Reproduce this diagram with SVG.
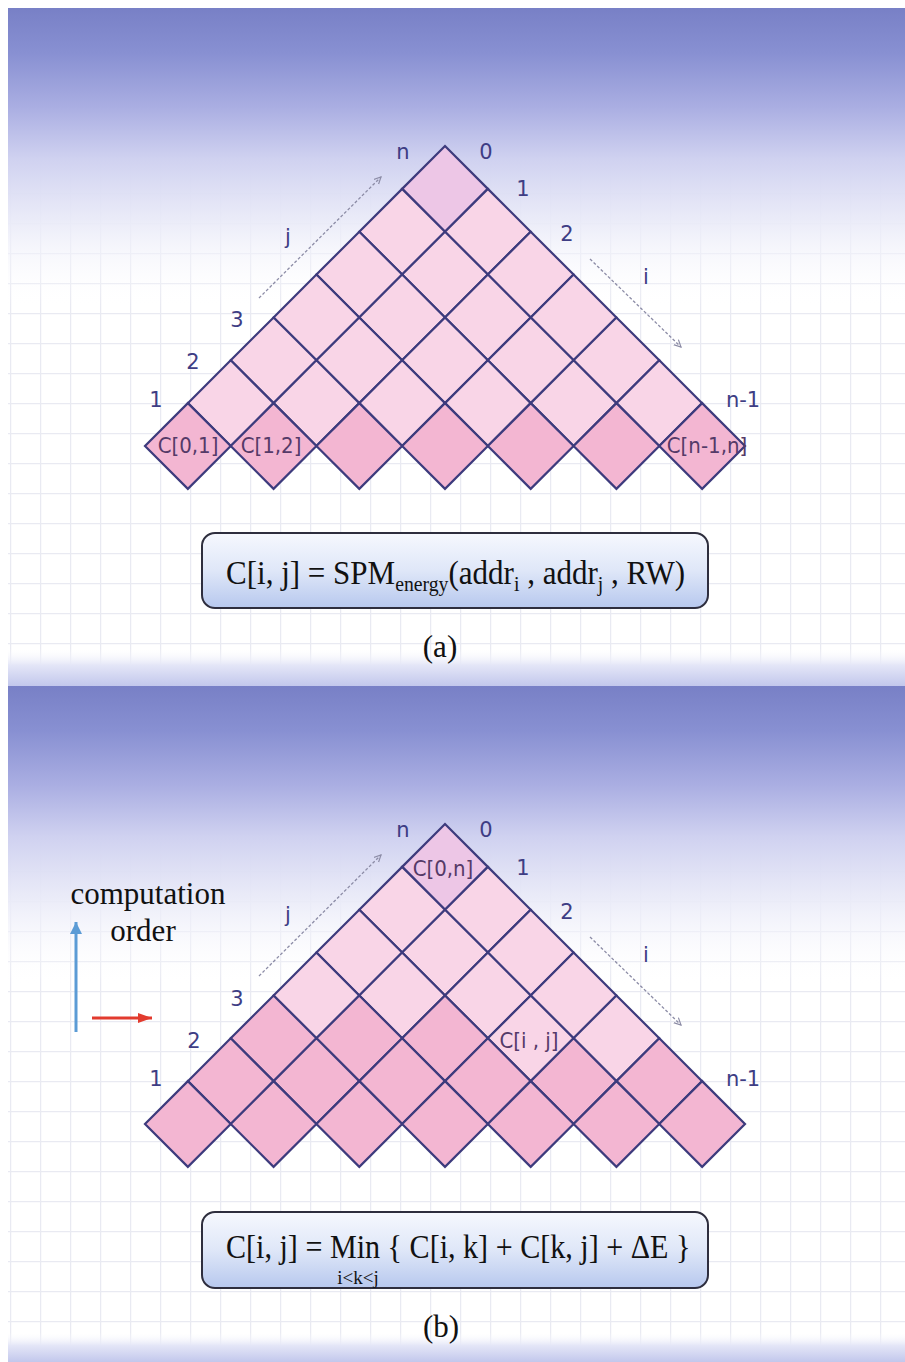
<svg xmlns="http://www.w3.org/2000/svg" xmlns:xlink="http://www.w3.org/1999/xlink" width="905" height="1362" viewBox="0 0 905 1362">
<style>
.lt{fill:#f9d5e7;stroke:#3d3b7d;stroke-width:2.2;stroke-linejoin:miter}
.dk{fill:#f3b6d2;stroke:#3d3b7d;stroke-width:2.2}
.top{fill:#edc6e6;stroke:#3d3b7d;stroke-width:2.2}
.lbl{font-family:"DejaVu Sans",Verdana,sans-serif;font-size:21px;fill:#3e3d84;text-anchor:middle}
.cell{font-family:"DejaVu Sans Condensed","DejaVu Sans",sans-serif;font-stretch:condensed;font-size:22px;fill:#553a68;text-anchor:middle}
.serif{font-family:"Liberation Serif","Times New Roman",serif;fill:#111}
.dot{fill:none;stroke:#8c8ca6;stroke-width:1.3;stroke-dasharray:3 2}
.box{fill:url(#boxg);stroke:#2e2e3e;stroke-width:2}
</style>
<defs>
<linearGradient id="topA" gradientUnits="userSpaceOnUse" x1="0" y1="8" x2="0" y2="308">
<stop offset="0" stop-color="#7880c6"/>
<stop offset="0.15" stop-color="#8890d2"/>
<stop offset="0.33" stop-color="#aaaee2"/>
<stop offset="0.5" stop-color="#cfd1f0"/>
<stop offset="0.72" stop-color="#eaebf8" stop-opacity="0.9"/>
<stop offset="1" stop-color="#ffffff" stop-opacity="0"/>
</linearGradient>
<linearGradient id="topB" gradientUnits="userSpaceOnUse" x1="0" y1="686" x2="0" y2="986">
<stop offset="0" stop-color="#7880c6"/>
<stop offset="0.15" stop-color="#8890d2"/>
<stop offset="0.33" stop-color="#aaaee2"/>
<stop offset="0.5" stop-color="#cfd1f0"/>
<stop offset="0.72" stop-color="#eaebf8" stop-opacity="0.9"/>
<stop offset="1" stop-color="#ffffff" stop-opacity="0"/>
</linearGradient>
<linearGradient id="band" x1="0" y1="0" x2="0" y2="1">
<stop offset="0" stop-color="#ffffff" stop-opacity="0"/>
<stop offset="0.45" stop-color="#e4e6f7"/>
<stop offset="1" stop-color="#c2c7ec"/>
</linearGradient>
<linearGradient id="boxg" x1="0" y1="0" x2="0" y2="1">
<stop offset="0" stop-color="#f6f8fe"/>
<stop offset="0.5" stop-color="#dfe7f8"/>
<stop offset="1" stop-color="#b7c8ee"/>
</linearGradient>
<pattern id="gridA" patternUnits="userSpaceOnUse" x="10" y="13" width="30" height="30">
<path d="M0,0.5H30M0.5,0V30" fill="none" stroke="#e9eaf2" stroke-width="1.5"/>
</pattern>
<pattern id="gridB" patternUnits="userSpaceOnUse" x="10" y="1" width="30" height="30">
<path d="M0,0.5H30M0.5,0V30" fill="none" stroke="#e9eaf2" stroke-width="1.5"/>
</pattern>
<path id="dia" d="M0,-42.857L42.857,0L0,42.857L-42.857,0Z"/>
<marker id="opn" markerUnits="userSpaceOnUse" markerWidth="10" markerHeight="10" refX="7" refY="4" orient="auto">
<path d="M0,0.5L7,4L0,7.5" fill="none" stroke="#8c8ca6" stroke-width="1.2"/>
</marker>
<marker id="blueH" markerUnits="userSpaceOnUse" markerWidth="14" markerHeight="14" refX="12" refY="6" orient="auto">
<path d="M0,0L12,6L0,12Z" fill="#5b9bd5"/>
</marker>
<marker id="redH" markerUnits="userSpaceOnUse" markerWidth="16" markerHeight="12" refX="14" refY="5" orient="auto">
<path d="M0,0L14,5L0,10Z" fill="#e23b2e"/>
</marker>
</defs>

<rect x="0" y="0" width="905" height="1362" fill="#ffffff"/>
<g id="bgA">
<rect x="8" y="8" width="897" height="678" fill="#ffffff"/>
<rect x="8" y="8" width="897" height="678" fill="url(#gridA)"/>
<rect x="8" y="8" width="897" height="300" fill="url(#topA)"/>
<rect x="8" y="648" width="897" height="38" fill="url(#band)"/>
</g>
<g id="bgB">
<rect x="8" y="686" width="897" height="676" fill="#ffffff"/>
<rect x="8" y="686" width="897" height="676" fill="url(#gridB)"/>
<rect x="8" y="686" width="897" height="300" fill="url(#topB)"/>
<rect x="8" y="1332" width="897" height="30" fill="url(#band)"/>
</g>

<g id="triangleA">
<use id="a00" xlink:href="#dia" x="445" y="188.86" class="top"/>
<use id="a10" xlink:href="#dia" x="402.14" y="231.71" class="lt"/>
<use id="a11" xlink:href="#dia" x="487.86" y="231.71" class="lt"/>
<use id="a20" xlink:href="#dia" x="359.29" y="274.57" class="lt"/>
<use id="a21" xlink:href="#dia" x="445" y="274.57" class="lt"/>
<use id="a22" xlink:href="#dia" x="530.71" y="274.57" class="lt"/>
<use id="a30" xlink:href="#dia" x="316.43" y="317.43" class="lt"/>
<use id="a31" xlink:href="#dia" x="402.14" y="317.43" class="lt"/>
<use id="a32" xlink:href="#dia" x="487.86" y="317.43" class="lt"/>
<use id="a33" xlink:href="#dia" x="573.57" y="317.43" class="lt"/>
<use id="a40" xlink:href="#dia" x="273.57" y="360.29" class="lt"/>
<use id="a41" xlink:href="#dia" x="359.29" y="360.29" class="lt"/>
<use id="a42" xlink:href="#dia" x="445" y="360.29" class="lt"/>
<use id="a43" xlink:href="#dia" x="530.71" y="360.29" class="lt"/>
<use id="a44" xlink:href="#dia" x="616.43" y="360.29" class="lt"/>
<use id="a50" xlink:href="#dia" x="230.71" y="403.14" class="lt"/>
<use id="a51" xlink:href="#dia" x="316.43" y="403.14" class="lt"/>
<use id="a52" xlink:href="#dia" x="402.14" y="403.14" class="lt"/>
<use id="a53" xlink:href="#dia" x="487.86" y="403.14" class="lt"/>
<use id="a54" xlink:href="#dia" x="573.57" y="403.14" class="lt"/>
<use id="a55" xlink:href="#dia" x="659.29" y="403.14" class="lt"/>
<use id="a60" xlink:href="#dia" x="187.86" y="446" class="dk"/>
<use id="a61" xlink:href="#dia" x="273.57" y="446" class="dk"/>
<use id="a62" xlink:href="#dia" x="359.29" y="446" class="dk"/>
<use id="a63" xlink:href="#dia" x="445" y="446" class="dk"/>
<use id="a64" xlink:href="#dia" x="530.71" y="446" class="dk"/>
<use id="a65" xlink:href="#dia" x="616.43" y="446" class="dk"/>
<use id="a66" xlink:href="#dia" x="702.14" y="446" class="dk"/>
</g>
<g id="cellLabelsA">
<text class="cell" x="188" y="453">C[0,1]</text>
<text class="cell" x="271" y="453">C[1,2]</text>
<text class="cell" x="707" y="453">C[n-1,n]</text>
</g>
<g id="axisLabelsA">
<text class="lbl" x="403" y="159">n</text>
<text class="lbl" x="486" y="159">0</text>
<text class="lbl" x="523" y="196">1</text>
<text class="lbl" x="567" y="241">2</text>
<text class="lbl" x="288" y="244">j</text>
<text class="lbl" x="646" y="284">i</text>
<text class="lbl" x="237" y="327">3</text>
<text class="lbl" x="193" y="369">2</text>
<text class="lbl" x="156" y="407">1</text>
<text class="lbl" x="743" y="407">n-1</text>
</g>
<g id="formulaA">
<rect class="box" x="202" y="533" width="506" height="75" rx="13"/>
<g transform="translate(226,0) scale(0.94,1)">
<text class="serif" x="0" y="584" font-size="33">C[i, j] = SPM<tspan font-size="21" dy="7">energy</tspan><tspan dy="-7">(addr</tspan><tspan font-size="21" dy="7">i</tspan><tspan dy="-7"> , addr</tspan><tspan font-size="21" dy="7">j</tspan><tspan dy="-7"> , RW)</tspan></text>
</g>
</g>
<text id="captionA" class="serif" x="440" y="657" font-size="31" text-anchor="middle">(a)</text>

<g id="triangleB">
<use id="b00" xlink:href="#dia" x="445" y="866.86" class="top"/>
<use id="b10" xlink:href="#dia" x="402.14" y="909.71" class="lt"/>
<use id="b11" xlink:href="#dia" x="487.86" y="909.71" class="lt"/>
<use id="b20" xlink:href="#dia" x="359.29" y="952.57" class="lt"/>
<use id="b21" xlink:href="#dia" x="445" y="952.57" class="lt"/>
<use id="b22" xlink:href="#dia" x="530.71" y="952.57" class="lt"/>
<use id="b30" xlink:href="#dia" x="316.43" y="995.43" class="lt"/>
<use id="b31" xlink:href="#dia" x="402.14" y="995.43" class="lt"/>
<use id="b32" xlink:href="#dia" x="487.86" y="995.43" class="lt"/>
<use id="b33" xlink:href="#dia" x="573.57" y="995.43" class="lt"/>
<use id="b40" xlink:href="#dia" x="273.57" y="1038.29" class="dk"/>
<use id="b41" xlink:href="#dia" x="359.29" y="1038.29" class="dk"/>
<use id="b42" xlink:href="#dia" x="445" y="1038.29" class="dk"/>
<use id="b43" xlink:href="#dia" x="530.71" y="1038.29" class="lt"/>
<use id="b44" xlink:href="#dia" x="616.43" y="1038.29" class="lt"/>
<use id="b50" xlink:href="#dia" x="230.71" y="1081.14" class="dk"/>
<use id="b51" xlink:href="#dia" x="316.43" y="1081.14" class="dk"/>
<use id="b52" xlink:href="#dia" x="402.14" y="1081.14" class="dk"/>
<use id="b53" xlink:href="#dia" x="487.86" y="1081.14" class="dk"/>
<use id="b54" xlink:href="#dia" x="573.57" y="1081.14" class="dk"/>
<use id="b55" xlink:href="#dia" x="659.29" y="1081.14" class="dk"/>
<use id="b60" xlink:href="#dia" x="187.86" y="1124" class="dk"/>
<use id="b61" xlink:href="#dia" x="273.57" y="1124" class="dk"/>
<use id="b62" xlink:href="#dia" x="359.29" y="1124" class="dk"/>
<use id="b63" xlink:href="#dia" x="445" y="1124" class="dk"/>
<use id="b64" xlink:href="#dia" x="530.71" y="1124" class="dk"/>
<use id="b65" xlink:href="#dia" x="616.43" y="1124" class="dk"/>
<use id="b66" xlink:href="#dia" x="702.14" y="1124" class="dk"/>
</g>
<g id="cellLabelsB">
<text class="cell" x="443" y="876">C[0,n]</text>
<text class="cell" x="529" y="1048">C[i , j]</text>
</g>
<g id="axisLabelsB">
<text class="lbl" x="403" y="837">n</text>
<text class="lbl" x="486" y="837">0</text>
<text class="lbl" x="523" y="875">1</text>
<text class="lbl" x="567" y="919">2</text>
<text class="lbl" x="288" y="922">j</text>
<text class="lbl" x="646" y="962">i</text>
<text class="lbl" x="237" y="1006">3</text>
<text class="lbl" x="194" y="1048">2</text>
<text class="lbl" x="156" y="1086">1</text>
<text class="lbl" x="743" y="1086">n-1</text>
</g>
<g id="orderLabel">
<text class="serif" x="148" y="904" font-size="31" text-anchor="middle">computation</text>
<text class="serif" x="143" y="941" font-size="31" text-anchor="middle">order</text>
</g>
<g id="formulaB">
<rect class="box" x="202" y="1212" width="506" height="76" rx="13"/>
<g transform="translate(226,0) scale(0.912,1)">
<text class="serif" x="0" y="1258" font-size="33">C[i, j] = Min { C[i, k] + C[k, j] + ΔE }</text>
</g>
<text class="serif" x="358" y="1284" font-size="19" text-anchor="middle">i&lt;k&lt;j</text>
</g>
<text id="captionB" class="serif" x="441" y="1337" font-size="31" text-anchor="middle">(b)</text>

<g id="connectors">
<line class="dot" x1="259" y1="298" x2="381" y2="177" marker-end="url(#opn)"/>
<line class="dot" x1="590" y1="259" x2="681" y2="347" marker-end="url(#opn)"/>
<line class="dot" x1="259" y1="976" x2="381" y2="855" marker-end="url(#opn)"/>
<line class="dot" x1="590" y1="937" x2="681" y2="1025" marker-end="url(#opn)"/>
<line x1="76" y1="1032" x2="76" y2="922" stroke="#5b9bd5" stroke-width="3" marker-end="url(#blueH)"/>
<line x1="92" y1="1018" x2="152" y2="1018" stroke="#e23b2e" stroke-width="3" marker-end="url(#redH)"/>
</g>
</svg>
